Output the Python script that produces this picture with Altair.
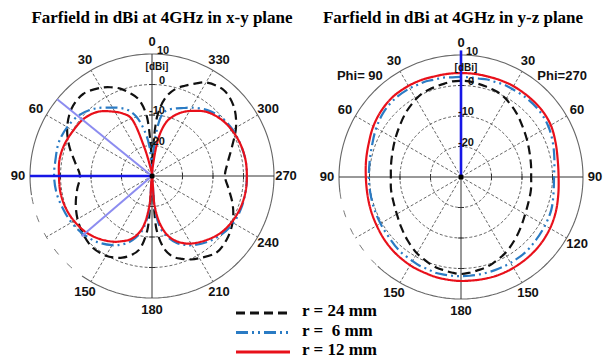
import altair as alt
import numpy as np
import pandas as pd

# ---------------------------------------------------------------- layout
W, H = 607, 358
R_OUT = 122.0                      # pixel radius of the outermost (+10 dBi) ring
DB_MIN, DB_MAX = -30.0, 10.0       # gain at the centre and at the outer ring
PX_PER_DB = R_OUT / (DB_MAX - DB_MIN)
CENTER = {"xy": (152.0, 176.0), "yz": (461.0, 177.0)}
LABEL_R = 134.0                    # radius of the angle labels
TITLE_X = {"xy": 162.0, "yz": 453.0}
OUTER_GAP = {"xy": (100, 145), "yz": (97, 137)}   # faded stretch of the outer ring

# ---------------------------------------------------------------- data (dBi)
angles = [0, 5, 10, 15, 20, 25, 30, 40, 50, 60, 70, 80, 90, 100, 110, 120, 130,
          140, 150, 155, 160, 165, 170, 175, 180, 185, 190, 195, 200, 205, 210,
          220, 230, 240, 250, 260, 270, 280, 290, 300, 310, 320, 330, 335, 340,
          345, 350, 355]

xy_r24 = [-26.7, -10.3, -4.4, -1.8, 0.5, 2.1, 3.4, 5.1, 4.4, 2.1, -1.1, -4.4,
          -6.4, -5.1, -3.4, -1.8, -0.5, 0.5, 0.2, -0.5, -1.5, -3.1, -5.4, -12.0,
          -26.7, -12.0, -5.4, -2.5, -1.1, 0.2, 1.1, 2.8, 2.1, 0.5, -1.8, -4.4,
          -6.1, -4.8, -2.1, 1.8, 5.1, 6.7, 5.4, 3.4, 1.5, -0.5, -3.8, -10.3]
xy_r6 = [-30.0, -20.2, -14.3, -9.7, -7.0, -5.4, -4.1, -1.1, 1.1, 2.1, 2.5, 2.1,
         2.1, 1.8, 1.1, 0.5, -0.5, -1.8, -3.8, -5.1, -6.7, -9.0, -12.0, -18.5,
         -30.0, -18.5, -12.0, -9.0, -6.7, -5.1, -3.8, -1.8, -0.2, 0.8, 1.1, 1.1,
         1.1, 1.1, 0.8, 0.5, -0.2, -1.8, -4.1, -5.4, -6.4, -7.4, -9.0, -16.9]
xy_r12 = [-30.0, -29.0, -27.4, -20.2, -9.7, -7.4, -5.7, -2.5, -0.8, -0.2, 0.5,
          0.8, 0.5, 0.5, 0.2, -0.5, -1.5, -3.1, -5.1, -6.4, -7.7, -9.7, -13.0,
          -20.2, -30.0, -20.2, -13.6, -9.7, -7.4, -5.7, -4.4, -2.5, -0.8, 0.2,
          0.8, 1.1, 1.1, 1.1, 0.8, 0.2, -0.8, -2.5, -5.4, -7.0, -9.0, -11.6,
          -16.9, -26.7]

yz_r24 = [1.5, 1.5, 1.1, 0.8, 0.5, 0.2, -0.5, -2.1, -3.8, -5.1, -6.1, -6.7,
          -7.0, -6.7, -6.4, -5.7, -4.4, -2.8, -1.1, -0.5, 0.2, 0.8, 1.1, 1.5,
          1.8, 1.5, 1.1, 0.8, 0.2, -0.5, -1.1, -2.8, -4.4, -5.7, -6.4, -6.7,
          -7.0, -6.7, -6.1, -5.1, -3.8, -2.1, -0.5, 0.2, 0.5, 0.8, 1.1, 1.5]
yz_r6 = [2.8, 2.8, 3.1, 3.1, 3.4, 3.4, 3.6, 3.6, 3.1, 2.1, 1.0, 0.4, 0.2, 0.2,
         0.3, 0.5, 0.8, 1.5, 1.8, 2.1, 2.1, 2.5, 2.5, 2.5, 2.5, 2.5, 2.5, 2.5,
         2.5, 2.5, 2.5, 2.5, 2.1, 1.8, 1.5, 0.8, 0.5, 1.1, 2.1, 3.1, 3.6, 3.6,
         3.4, 3.4, 3.1, 3.1, 2.8, 2.8]
yz_r12 = [4.1, 4.1, 4.1, 4.1, 4.3, 4.4, 4.5, 4.5, 4.0, 3.2, 2.2, 1.6, 1.2, 1.2,
          1.5, 1.9, 2.5, 3.0, 3.4, 3.5, 3.6, 3.8, 3.9, 4.0, 4.1, 4.1, 4.2, 4.3,
          4.4, 4.4, 4.4, 4.3, 4.1, 3.7, 3.1, 2.4, 2.0, 2.2, 3.0, 4.0, 4.4, 4.4,
          4.4, 4.3, 4.2, 4.1, 4.1, 4.1]

series = ["r = 24 mm", "r = 6 mm", "r = 12 mm"]
series_colors = ["#111111", "#2a7bc4", "#e8101a"]
series_dash = [[9, 5], [12, 4, 2, 4, 2, 4], [1, 0]]
legend_text = ["r = 24 mm", "r =\u00a0 6 mm", "r = 12 mm"]

titles = {"xy": "Farfield in dBi at 4GHz in x-y plane",
          "yz": "Farfield in dBi at 4GHz in y-z plane"}
ring_levels = [-20, -10, 0]
ring_text = {10: "10", 0: "0", -10: "-10", -20: "-20"}
spoke_angles = [30, 60, 120, 150, 210, 240, 300, 330]
angle_pos = [0, 30, 60, 90, 150, 180, 210, 240, 270, 300, 330]
angle_text = {
    "xy": ["0", "30", "60", "90", "150", "180", "210", "240", "270", "300", "330"],
    "yz": ["0", "30", "60", "90", "150", "180", "150", "120", "90", "60", "30"],
}
phi_labels = [("yz", 45, "Phi= 90"), ("yz", 315, "Phi=270")]

# main-lobe direction and beam-width markers: (plane, angle, reach in dBi)
main_lobe = [("xy", 90, 10.0), ("yz", 0, 11.5)]
beam_edges = [("xy", 51, 10.0), ("xy", 130.6, 0.4)]

# ---------------------------------------------------------------- helpers
CX = f"(datum.plane == 'xy' ? {CENTER['xy'][0]} : {CENTER['yz'][0]})"
CY = f"(datum.plane == 'xy' ? {CENTER['xy'][1]} : {CENTER['yz'][1]})"


def db_px(field):
    return f"((datum.{field}) - ({DB_MIN})) * {PX_PER_DB}"


def polar(chart, angle, radius, xo="px", yo="py"):
    th = f"(({angle}) * PI / 180)"
    return chart.transform_calculate(**{
        xo: f"{CX} - ({radius}) * sin({th})",
        yo: f"{CY} - ({radius}) * cos({th})",
    })


XS = alt.Scale(domain=[0, W], nice=False, zero=False)
YS = alt.Scale(domain=[0, H], nice=False, zero=False, reverse=True)


def X(f="px"):
    return alt.X(f"{f}:Q", scale=XS, axis=None)


def Y(f="py"):
    return alt.Y(f"{f}:Q", scale=YS, axis=None)


GRID = "#555555"
SANS = "Liberation Sans"
SERIF = "Liberation Serif"

# ---------------------------------------------------------------- grid
ring_ang = list(range(0, 361, 3))
ring_df = pd.DataFrame([dict(plane=p, level=l, angle=a)
                        for p in CENTER for l in ring_levels for a in ring_ang])
rings = polar(alt.Chart(ring_df), "datum.angle", db_px("level")).mark_line(
    stroke=GRID, strokeWidth=0.9, strokeDash=[3, 2]
).encode(x=X(), y=Y(), detail=["plane:N", "level:N"], order="angle:Q")

outer_rows = []
for p, (g0, g1) in OUTER_GAP.items():
    for a in np.arange(g1, g0 + 360 + 1, 2):
        outer_rows.append(dict(plane=p, part="solid", angle=float(a)))
    for a in np.arange(g0, g1 + 1, 2):
        outer_rows.append(dict(plane=p, part="faded", angle=float(a)))
outer_df = pd.DataFrame(outer_rows)
outer_solid = polar(alt.Chart(outer_df).transform_filter("datum.part == 'solid'"),
                    "datum.angle", str(R_OUT)).mark_line(
    stroke="#666666", strokeWidth=1.1
).encode(x=X(), y=Y(), detail="plane:N", order="angle:Q")
outer_faded = polar(alt.Chart(outer_df).transform_filter("datum.part == 'faded'"),
                    "datum.angle", str(R_OUT)).mark_line(
    stroke="#777777", strokeWidth=1.0, strokeDash=[7, 12]
).encode(x=X(), y=Y(), detail="plane:N", order="angle:Q")

spoke_df = pd.DataFrame([dict(plane=p, angle=a) for p in CENTER for a in spoke_angles])
spokes = polar(polar(alt.Chart(spoke_df), "datum.angle", "0"),
               "datum.angle", str(R_OUT), "px2", "py2").mark_rule(
    stroke=GRID, strokeWidth=0.9, strokeDash=[3, 2]
).encode(x=X(), y=Y(), x2="px2:Q", y2="py2:Q")

axis_df = pd.DataFrame([dict(plane=p, angle=a) for p in CENTER for a in (0, 90)])
axes = polar(polar(alt.Chart(axis_df), "datum.angle", str(R_OUT)),
             "datum.angle + 180", str(R_OUT), "px2", "py2").mark_rule(
    stroke="#333333", strokeWidth=1.0
).encode(x=X(), y=Y(), x2="px2:Q", y2="py2:Q")

tick_df = pd.DataFrame([dict(plane=p, angle=a, level=l)
                        for p in CENTER for a in (0, 90, 180, 270) for l in ring_levels])
ticks = polar(alt.Chart(tick_df), "datum.angle", db_px("level")).transform_calculate(
    tx1="datum.px + 3 * cos(datum.angle * PI / 180)",
    ty1="datum.py - 3 * sin(datum.angle * PI / 180)",
    tx2="datum.px - 3 * cos(datum.angle * PI / 180)",
    ty2="datum.py + 3 * sin(datum.angle * PI / 180)",
).mark_rule(stroke="#333333", strokeWidth=1.0).encode(
    x=X("tx1"), y=Y("ty1"), x2="tx2:Q", y2="ty2:Q")

# ---------------------------------------------------------------- patterns
curve_rows = []
for plane, vals in (("xy", (xy_r24, xy_r6, xy_r12)), ("yz", (yz_r24, yz_r6, yz_r12))):
    for name, gains in zip(series, vals):
        pts = list(zip(angles, gains)) + [(360, gains[0])]
        for k, (a, g) in enumerate(pts):
            curve_rows.append(dict(plane=plane, series=name, angle=a, gain=g, k=k))
curve_df = pd.DataFrame(curve_rows)

color_enc = alt.Color("series:N", scale=alt.Scale(domain=series, range=series_colors),
                      legend=None)
dash_enc = alt.StrokeDash("series:N", scale=alt.Scale(domain=series, range=series_dash),
                          legend=None)


def curve(name):
    base = alt.Chart(curve_df).transform_filter(alt.datum.series == name)
    return polar(base, "datum.angle", db_px("gain")).mark_line(
        strokeWidth=2.2, strokeJoin="round", interpolate="catmull-rom"
    ).encode(x=X(), y=Y(), color=color_enc, strokeDash=dash_enc,
             detail="plane:N", order="k:Q")


curves = [curve(s) for s in series]

# ---------------------------------------------------------------- lobe markers
def lobe_layer(rows, colour, width):
    df = pd.DataFrame(rows, columns=["plane", "angle", "reach"])
    return polar(polar(alt.Chart(df), "datum.angle", "0"),
                 "datum.angle", db_px("reach"), "px2", "py2").mark_rule(
        stroke=colour, strokeWidth=width, strokeCap="butt"
    ).encode(x=X(), y=Y(), x2="px2:Q", y2="py2:Q")


main_lines = lobe_layer(main_lobe, "#1616e6", 2.6)
edge_lines = lobe_layer(beam_edges, "#8c8cf0", 2.0)

centre_df = pd.DataFrame({"plane": list(CENTER)})
centres = polar(alt.Chart(centre_df), "0", "0").mark_circle(
    color="#000000", size=26, opacity=1).encode(x=X(), y=Y())

# ---------------------------------------------------------------- text
ang_df = pd.DataFrame([dict(plane=p, angle=a, text=t)
                       for p in CENTER for a, t in zip(angle_pos, angle_text[p])])
angle_labels = polar(alt.Chart(ang_df), "datum.angle", str(LABEL_R)).mark_text(
    font=SANS, fontSize=13, fontWeight="bold", color="#111111",
    align="center", baseline="middle"
).encode(x=X(), y=Y(), text="text:N")

phi_df = pd.DataFrame(phi_labels, columns=["plane", "angle", "text"])
phi_text = polar(alt.Chart(phi_df), "datum.angle", "143").mark_text(
    font=SANS, fontSize=13, fontWeight="bold", color="#111111",
    align="center", baseline="middle"
).encode(x=X(), y=Y(), text="text:N")

rad_df = pd.DataFrame([dict(plane=p, level=l, text=t)
                       for p in CENTER for l, t in ring_text.items()])
radial_labels = alt.Chart(rad_df).transform_calculate(
    px=f"{CX} + (datum.level == 0 ? 7 : (datum.level == 10 ? 5 : -3))",
    py=f"{CY} - {db_px('level')} - (datum.level == 10 ? 3 : 4)",
).mark_text(font=SANS, fontSize=11, fontWeight="bold", color="#111111",
            align="left", baseline="middle").encode(x=X(), y=Y(), text="text:N")

unit_df = pd.DataFrame({"plane": list(CENTER), "text": ["[dBi]", "[dBi]"]})
unit_labels = alt.Chart(unit_df).transform_calculate(
    px=f"{CX} + 5", py=f"{CY} - 109"
).mark_text(font=SANS, fontSize=10, fontWeight="bold", color="#111111",
            align="center", baseline="middle").encode(x=X(), y=Y(), text="text:N")

title_df = pd.DataFrame([dict(tx=TITLE_X[p], ty=18.0, text=t) for p, t in titles.items()])
title_text = alt.Chart(title_df).mark_text(
    font=SERIF, fontSize=17, fontWeight="bold", color="#000000",
    align="center", baseline="middle"
).encode(x=X("tx"), y=Y("ty"), text="text:N")

# ---------------------------------------------------------------- legend
leg_df = pd.DataFrame({"series": series, "label": legend_text, "row": [0, 1, 2]})
leg_base = alt.Chart(leg_df).transform_calculate(
    ly="313 + datum.row * 19.5", lx1="236", lx2="290", tx="302")
legend_lines = leg_base.mark_rule(strokeWidth=3).encode(
    x=X("lx1"), x2="lx2:Q", y=Y("ly"), color=color_enc, strokeDash=dash_enc)
legend_labels = leg_base.mark_text(
    font=SERIF, fontSize=17, fontWeight="bold", color="#000000",
    align="left", baseline="middle", dy=-2
).encode(x=X("tx"), y=Y("ly"), text="label:N")

chart = alt.layer(
    rings, spokes, outer_solid, outer_faded, axes, ticks,
    *curves, main_lines, edge_lines, centres,
    angle_labels, phi_text, radial_labels, unit_labels, title_text,
    legend_lines, legend_labels,
).properties(
    width=W, height=H, padding=0, background="#ffffff",
    autosize=alt.AutoSizeParams(type="none"),
).configure_view(stroke=None)

chart.save("out.html", embed_options={"renderer": "svg", "actions": False})
